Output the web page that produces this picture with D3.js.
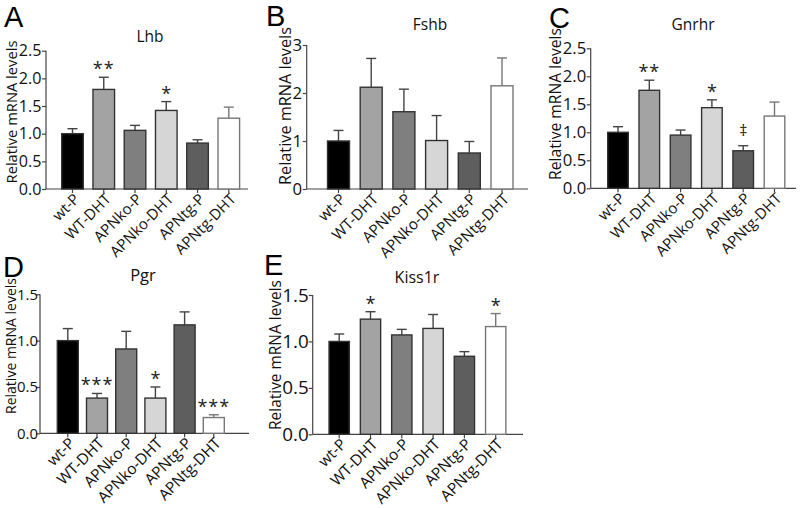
<!DOCTYPE html>
<html>
<head>
<meta charset="utf-8">
<script src="https://cdn.jsdelivr.net/npm/d3@7/dist/d3.min.js"></script>
<style>
  html, body { margin: 0; padding: 0; background: #fff; }
  svg { display: block; font-family: "Open Sans", Lato, sans-serif; }
</style>
</head>
<body>
<svg id="chart" width="800" height="508"></svg>
<script>
// Groups (same for every panel)
const categories = ["wt-P", "WT-DHT", "APNko-P", "APNko-DHT", "APNtg-P", "APNtg-DHT"];
const barFills = ["#000000", "#a3a3a3", "#7f7f7f", "#d6d6d6", "#5e5e5e", "#ffffff"];

// Relative mRNA levels (mean) and SEM
const lhbMean = [1.00, 1.80, 1.06, 1.42, 0.83, 1.28];
const lhbSem = [0.09, 0.22, 0.09, 0.16, 0.06, 0.20];
const lhbSig = ["", "**", "", "*", "", ""];

const fshbMean = [1.00, 2.12, 1.61, 1.01, 0.75, 2.15];
const fshbSem = [0.22, 0.60, 0.47, 0.52, 0.24, 0.58];
const fshbSig = ["", "", "", "", "", ""];

const gnrhrMean = [1.00, 1.75, 0.95, 1.44, 0.67, 1.29];
const gnrhrSem = [0.10, 0.18, 0.09, 0.14, 0.09, 0.25];
const gnrhrSig = ["", "**", "", "*", "\u2021", ""];

const pgrMean = [1.00, 0.38, 0.91, 0.38, 1.17, 0.17];
const pgrSem = [0.13, 0.05, 0.19, 0.12, 0.14, 0.03];
const pgrSig = ["", "***", "", "*", "", "***"];

const kiss1rMean = [1.00, 1.24, 1.07, 1.14, 0.84, 1.16];
const kiss1rSem = [0.08, 0.08, 0.06, 0.15, 0.05, 0.14];
const kiss1rSig = ["", "*", "", "", "", "*"];

// Y tick values
const ticksHalf25 = [0, 0.5, 1.0, 1.5, 2.0, 2.5];
const ticksInt3 = [0, 1, 2, 3];
const ticksHalf15 = [0, 0.5, 1.0, 1.5];

// Panel layout: pixel geometry, and the widths the texts take in the figure
const panels = [
    { letter: "A", title: "Lhb", mean: lhbMean, sem: lhbSem, sig: lhbSig, ticks: ticksHalf25, fmt: ".1f",
      ax: 46, axEnd: 248, y0: 189, yTop: 50.7, c0: 72.5, step: 31.26, bw: 21.6,
      lx: 4, ly: 27, tx: 150, ty: 42, titleFs: 15.5, labRight: 16.7, labY: 112,
      tickW: 22.7, tickDx: -4.5, labW: 143, catW: 82 },
    { letter: "B", title: "Fshb", mean: fshbMean, sem: fshbSem, sig: fshbSig, ticks: ticksInt3, fmt: "d",
      ax: 306.7, axEnd: 528, y0: 189, yTop: 45, c0: 338.5, step: 32.7, bw: 22,
      lx: 266, ly: 26, tx: 430, ty: 30, titleFs: 15.5, labRight: 295, labY: 106,
      tickW: 9.6, tickDx: -4.5, labW: 158, catW: 83 },
    { letter: "C", title: "Gnrhr", mean: gnrhrMean, sem: gnrhrSem, sig: gnrhrSig, ticks: ticksHalf25, fmt: ".1f",
      ax: 590.7, axEnd: 796, y0: 188.3, yTop: 48.3, c0: 618, step: 31.3, bw: 20.6,
      lx: 549, ly: 28, tx: 693, ty: 30, titleFs: 15.5, labRight: 568, labY: 104,
      tickW: 23.5, tickDx: -4.5, labW: 152, catW: 82 },
    { letter: "D", title: "Pgr", mean: pgrMean, sem: pgrSem, sig: pgrSig, ticks: ticksHalf15, fmt: ".1f",
      ax: 40, axEnd: 249, y0: 433.3, yTop: 294.3, c0: 67.8, step: 29.2, bw: 21,
      lx: 3, ly: 277, tx: 143, ty: 281, titleFs: 16.5, labRight: 16, labY: 346,
      tickW: 21, tickDx: -2, labW: 136, catW: 84 },
    { letter: "E", title: "Kiss1r", mean: kiss1rMean, sem: kiss1rSem, sig: kiss1rSig, ticks: ticksHalf15, fmt: ".1f",
      ax: 312.7, axEnd: 523, y0: 434.3, yTop: 295, c0: 339.2, step: 31.3, bw: 20.3,
      lx: 264, ly: 275, tx: 417, ty: 283, titleFs: 16, labRight: 287, labY: 355,
      tickW: 26.5, tickDx: -4, labW: 150, catW: 84 }
];

const svg = d3.select("#chart");
const axisColor = "#444";

// size a text so that it is `target` px long, return that font size
function fitSize(node, target) {
    const base = 20;
    node.setAttribute("font-size", base);
    return base * target / node.getComputedTextLength();
}

function drawPanel(p) {
    const g = svg.append("g");
    const maxTick = p.ticks[p.ticks.length - 1];

    const y = d3.scaleLinear().domain([0, maxTick]).range([p.y0, p.yTop]);
    const x = d3.scaleBand()
        .domain(categories)
        .range([p.c0 - p.step / 2, p.c0 + (categories.length - 0.5) * p.step])
        .paddingInner(1 - p.bw / p.step)
        .paddingOuter((1 - p.bw / p.step) / 2);

    // y axis
    const yAxis = d3.axisLeft(y).tickValues(p.ticks).tickFormat(d3.format(p.fmt)).tickSize(4).tickSizeOuter(0);
    const ya = g.append("g").attr("transform", `translate(${p.ax},0)`).call(yAxis);
    ya.attr("font-family", null).attr("font-size", null);
    ya.select(".domain").attr("stroke", axisColor).attr("stroke-width", 1.2).attr("d", `M0,${p.y0}V${p.yTop}`);
    ya.selectAll(".tick line").attr("stroke", axisColor).attr("stroke-width", 1.2);
    const tickTexts = ya.selectAll(".tick text").attr("fill", "#111").attr("x", p.tickDx);
    const tickFs = fitSize(tickTexts.node(), p.tickW);
    tickTexts.attr("font-size", tickFs);
    const tickLeft = p.ax + d3.min(tickTexts.nodes(), n => n.getBBox().x);

    // x axis
    const xa = g.append("g").attr("transform", `translate(0,${p.y0})`)
        .call(d3.axisBottom(x).tickSize(4).tickSizeOuter(0));
    xa.select(".domain").attr("stroke", axisColor).attr("stroke-width", 1.2).attr("d", `M${p.ax},0H${p.axEnd}`);
    xa.selectAll(".tick line").attr("stroke", axisColor).attr("stroke-width", 1.2);
    xa.selectAll(".tick text").remove();

    // rotated category labels
    const cats = g.selectAll(".cat").data(categories).enter().append("text")
        .attr("class", "cat")
        .attr("transform", d => `translate(${x(d) + x.bandwidth() / 2 + 8},${p.y0 + 11}) rotate(-45)`)
        .attr("text-anchor", "end")
        .attr("fill", "#111")
        .text(d => d);
    const catFs = fitSize(cats.filter(d => d === "APNko-DHT").node(), p.catW);
    cats.attr("font-size", catFs);

    const rows = categories.map((c, i) => ({
        cat: c, mean: p.mean[i], sem: p.sem[i], sig: p.sig[i], fill: barFills[i]
    }));

    // error bars (upper only)
    const eb = g.selectAll(".err").data(rows).enter().append("g").attr("class", "err")
        .attr("stroke", d => d.fill === "#ffffff" ? "#777" : axisColor)
        .attr("stroke-width", 1.4);
    eb.append("line")
        .attr("x1", d => x(d.cat) + x.bandwidth() / 2)
        .attr("x2", d => x(d.cat) + x.bandwidth() / 2)
        .attr("y1", d => y(d.mean))
        .attr("y2", d => y(d.mean + d.sem));
    eb.append("line")
        .attr("x1", d => x(d.cat) + x.bandwidth() / 2 - 5)
        .attr("x2", d => x(d.cat) + x.bandwidth() / 2 + 5)
        .attr("y1", d => y(d.mean + d.sem))
        .attr("y2", d => y(d.mean + d.sem));

    // bars
    g.selectAll(".bar").data(rows).enter().append("rect")
        .attr("class", "bar")
        .attr("x", d => x(d.cat))
        .attr("width", x.bandwidth())
        .attr("y", d => y(d.mean))
        .attr("height", d => p.y0 - y(d.mean))
        .attr("fill", d => d.fill)
        .attr("stroke", d => d.fill === "#ffffff" ? "#777" : "#333")
        .attr("stroke-width", 1.4);

    // significance marks
    g.selectAll(".sig").data(rows.filter(d => d.sig)).enter().append("text")
        .attr("class", "sig")
        .attr("x", d => x(d.cat) + x.bandwidth() / 2)
        .attr("y", d => y(d.mean + d.sem) - (d.sig === "\u2021" ? 10 : 2))
        .attr("text-anchor", "middle")
        .attr("font-size", d => d.sig === "\u2021" ? 16 : 18)
        .attr("letter-spacing", d => d.sig.length > 1 ? 1 : 0)
        .attr("fill", "#222")
        .text(d => d.sig);

    // title
    g.append("text").attr("x", p.tx).attr("y", p.ty)
        .attr("text-anchor", "middle").attr("fill", "#111")
        .attr("font-size", p.titleFs)
        .text(p.title);

    // y label, its baseline just left of the tick labels
    const lab = g.append("text")
        .attr("text-anchor", "middle")
        .attr("fill", "#111")
        .text("Relative mRNA levels");
    lab.attr("font-size", fitSize(lab.node(), p.labW));
    const labX = Math.min(p.labRight, tickLeft - 1.5);
    lab.attr("transform", `translate(${labX},${p.labY}) rotate(-90)`);

    // panel letter
    g.append("text").attr("x", p.lx).attr("y", p.ly)
        .attr("font-family", "'Liberation Sans', Arial, sans-serif")
        .attr("font-size", 29).attr("fill", "#000")
        .text(p.letter);
}

panels.forEach(drawPanel);
</script>
</body>
</html>
